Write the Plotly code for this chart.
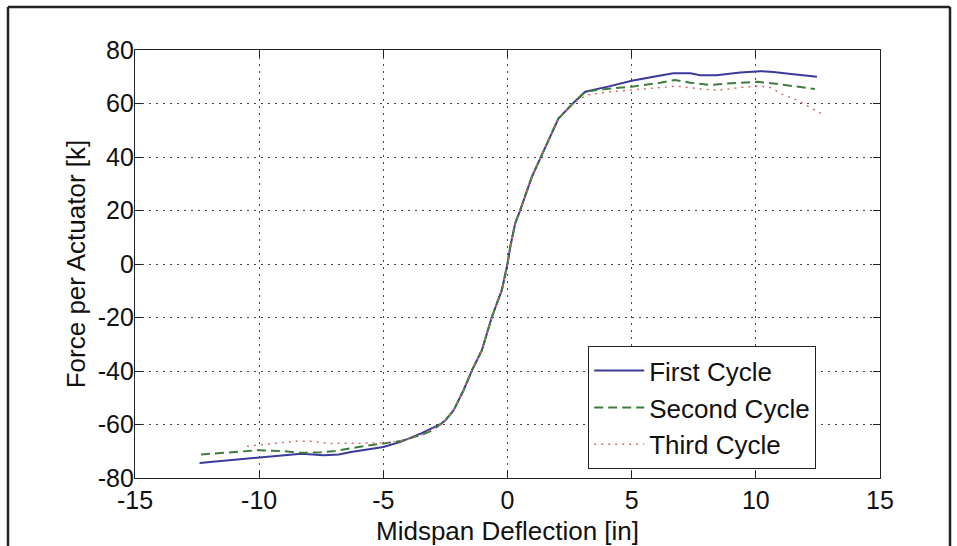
import plotly.graph_objects as go

# ---- data ----
first_x = [-12.4, -11.0, -10.0, -9.0, -8.3, -7.4, -6.8, -6.3, -5.5, -5.0, -4.3, -3.5, -2.7, -2.5,
           -2.17, -1.77, -1.43, -1.03, -0.63, -0.23, 0.0, 0.11, 0.31, 0.51, 0.98, 1.52, 2.05, 2.66,
           3.13, 4.13, 5.0, 5.88, 6.68, 7.36, 7.76, 8.43, 9.37, 10.17, 10.71, 11.51, 12.46]
first_y = [-74.4, -73.2, -72.4, -71.6, -70.9, -71.5, -71.2, -70.3, -69.2, -68.4, -66.5, -63.4, -59.9, -58.4,
           -54.7, -47.2, -39.7, -32.2, -19.8, -9.8, 0.0, 6.4, 15.2, 20.1, 32.6, 43.8, 54.4, 60.3,
           64.4, 66.5, 68.5, 70.0, 71.3, 71.3, 70.6, 70.6, 71.6, 72.1, 71.8, 70.9, 70.0]

second_x = [-12.34, -11.0, -10.0, -9.0, -8.35, -7.5, -6.94, -6.0, -5.0, -4.32, -3.5, -3.1, -2.7, -2.5,
            -2.17, -1.77, -1.43, -1.03, -0.63, -0.23, 0.0, 0.11, 0.31, 0.51, 0.98, 1.52, 2.05, 2.66,
            3.13, 3.86, 5.0, 6.15, 6.75, 7.36, 8.16, 8.83, 10.04, 10.71, 11.51, 12.38]
second_y = [-71.2, -70.4, -69.6, -70.0, -70.6, -70.4, -69.9, -68.4, -67.1, -66.2, -64.0, -62.5, -60.0, -58.4,
            -54.7, -47.2, -39.7, -32.2, -19.8, -9.8, 0.0, 6.4, 15.2, 20.1, 32.6, 43.8, 54.4, 60.3,
            64.4, 65.3, 66.3, 67.8, 68.8, 67.8, 66.9, 67.5, 68.1, 67.5, 66.5, 65.4]

third_x = [-10.49, -9.5, -8.48, -7.9, -7.14, -6.3, -5.13, -4.3, -3.5, -2.7, -2.5,
           -2.17, -1.77, -1.43, -1.03, -0.63, -0.23, 0.0, 0.11, 0.31, 0.51, 0.98, 1.52, 2.05, 2.66,
           3.2, 4.13, 5.0, 6.15, 6.82, 7.89, 8.56, 9.37, 10.17, 10.58, 11.11, 11.65, 12.19, 12.66]
third_y = [-68.1, -67.2, -66.2, -66.3, -67.1, -67.0, -66.9, -66.3, -64.0, -60.0, -58.4,
           -54.7, -47.2, -39.7, -32.2, -19.8, -9.8, 0.0, 6.4, 15.2, 20.1, 32.6, 43.8, 54.4, 60.3,
           63.2, 64.4, 65.0, 66.0, 66.5, 65.3, 65.0, 66.0, 66.5, 66.0, 63.2, 61.3, 58.6, 56.1]

series_names = ["First Cycle", "Second Cycle", "Third Cycle"]
x_ticks = [-15, -10, -5, 0, 5, 10, 15]
y_ticks = [-80, -60, -40, -20, 0, 20, 40, 60, 80]

FONT = "Arial, Liberation Sans, Helvetica, sans-serif"

fig = go.Figure()
fig.add_trace(go.Scatter(x=first_x, y=first_y, mode="lines", name=series_names[0],
                         line=dict(color="#3a3a9c", width=2)))
fig.add_trace(go.Scatter(x=second_x, y=second_y, mode="lines", name=series_names[1],
                         line=dict(color="#3d7d3d", width=2, dash="9px,5px")))
fig.add_trace(go.Scatter(x=third_x, y=third_y, mode="lines", name=series_names[2],
                         line=dict(color="#e06868", width=1.5, dash="2px,5px")))

axis_common = dict(
    showline=True, linecolor="#222", linewidth=1.2, mirror="ticks",
    ticks="inside", ticklen=7, tickcolor="#222", tickwidth=1.2,
    showgrid=True, gridcolor="#444", gridwidth=1, griddash="2px,5px",
    zeroline=False, automargin=False,
    tickfont=dict(family=FONT, size=25, color="#111"),
)

fig.update_xaxes(range=[-15, 15], tickvals=x_ticks, ticktext=[str(v) for v in x_ticks],
                 title=dict(text="Midspan Deflection [in]", font=dict(family=FONT, size=26, color="#111"),
                            standoff=10),
                 **axis_common)
fig.update_yaxes(range=[-80, 80], tickvals=y_ticks, ticktext=[str(v) for v in y_ticks],
                 ticklabelstandoff=-5,
                 title=dict(text="Force per Actuator [k]", font=dict(family=FONT, size=26, color="#111"),
                            standoff=4),
                 **axis_common)

# outer frame of the picture
L, R, T, B = 135, 880, 50, 478
def px_x(p):
    return (p - L) / (R - L)
def px_y(p):
    return (B - p) / (B - T)

frame = dict(type="line", xref="paper", yref="paper", line=dict(color="#222", width=2.5))
fig.add_shape(x0=px_x(8), x1=px_x(950), y0=px_y(7), y1=px_y(7), **frame)
fig.add_shape(x0=px_x(8), x1=px_x(8), y0=px_y(7), y1=px_y(560), **frame)
fig.add_shape(x0=px_x(950), x1=px_x(950), y0=px_y(7), y1=px_y(560), **frame)

fig.update_layout(
    width=957, height=546,
    margin=dict(l=L, r=957 - R, t=T, b=546 - B),
    paper_bgcolor="white", plot_bgcolor="white",
    showlegend=True,
    legend=dict(x=px_x(588), y=px_y(346), xanchor="left", yanchor="top",
                bgcolor="white", bordercolor="#222", borderwidth=1.2,
                font=dict(family=FONT, size=26, color="#111"),
                itemwidth=50, tracegroupgap=0),
    font=dict(family=FONT),
)

fig.write_html("out.html", config={"displayModeBar": False},
               post_script="document.body.style.margin='0';document.body.style.overflow='hidden';")
